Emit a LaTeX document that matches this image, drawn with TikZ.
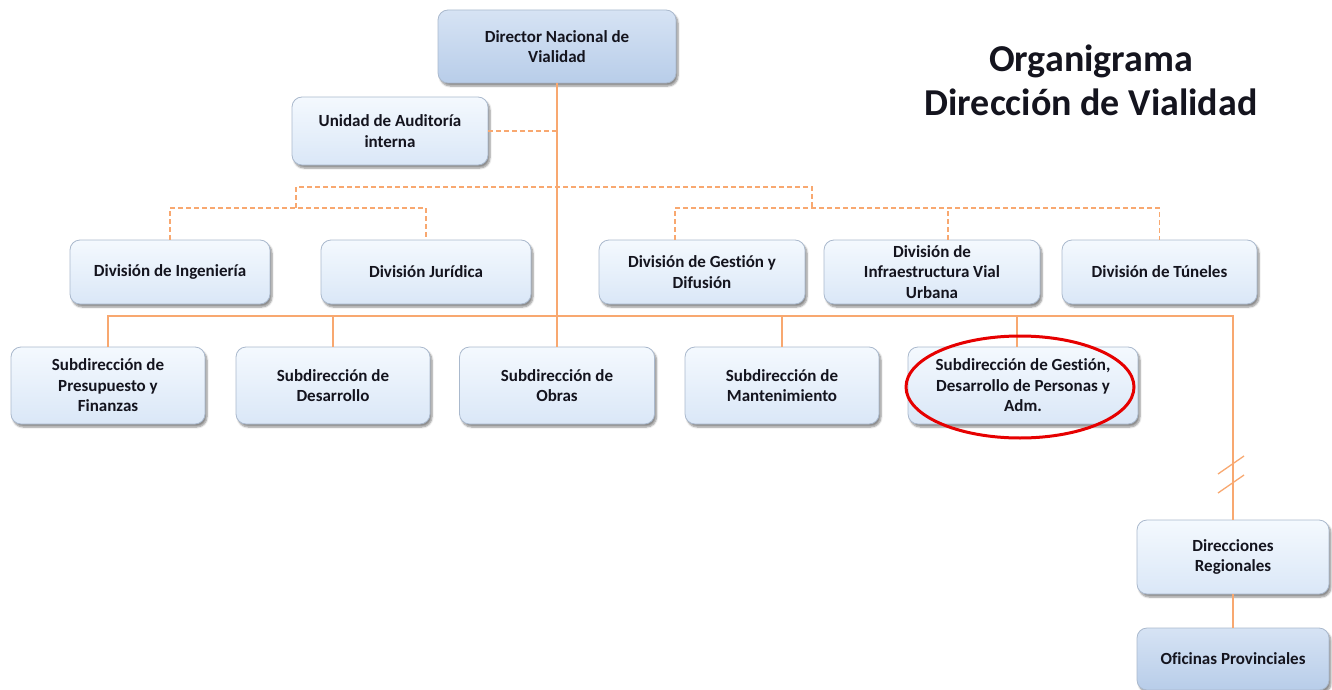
\documentclass[tikz,border=0pt]{standalone}
\usepackage{fontspec}
\setmainfont{Carlito}[Ligatures=NoCommon]
\usepackage{tikz}
\usetikzlibrary{positioning,calc,shadows.blur}
\definecolor{linkcolor}{RGB}{248,168,112}
\definecolor{boxedge}{RGB}{170,185,205}
\definecolor{paletop}{RGB}{244,249,254}
\definecolor{palebot}{RGB}{218,231,247}
\definecolor{deeptop}{RGB}{214,227,244}
\definecolor{deepbot}{RGB}{184,205,233}
\definecolor{markred}{RGB}{230,0,0}
\definecolor{inktext}{RGB}{20,20,30}
\tikzset{
  unitbox/.style={draw=boxedge, line width=0.8pt, rounded corners=10pt,
    top color=paletop, bottom color=palebot, align=center, text=inktext,
    font=\fontsize{17}{20.5}\selectfont\bfseries, inner sep=2pt,
    blur shadow={shadow xshift=2pt, shadow yshift=-3pt, shadow blur steps=6, shadow opacity=45}},
  headbox/.style={unitbox, top color=deeptop, bottom color=deepbot},
  solidln/.style={draw=linkcolor, line width=1.3pt},
  dashln/.style={draw=linkcolor, line width=1.3pt, dash pattern=on 5pt off 3pt},
}

\begin{document}
\begin{tikzpicture}[x=1pt, y=-1pt]
    \useasboundingbox (0,0) rectangle (1332,690);

    % top of the chart
    \node[headbox, minimum width=238pt, minimum height=73pt] (dir) at (557,46.5) {Director Nacional de\\Vialidad};
    \node[unitbox, minimum width=196pt, minimum height=68pt] (aud) at (390,131) {Unidad de Auditoría\\interna};
    \node[font=\fontsize{38}{44}\selectfont\bfseries, align=center, text=inktext] (title) at (1091,80) {Organigrama\\Dirección de Vialidad};

    % divisions
    \node[unitbox, minimum width=200pt, minimum height=64pt] (ing) at (170,272) {División de Ingeniería};
    \node[unitbox, minimum width=210pt, minimum height=64pt] (jur) at (426,272) {División Jurídica};
    \node[unitbox, minimum width=206pt, minimum height=64pt] (gesd) at (702,272) {División de Gestión y\\Difusión};
    \node[unitbox, minimum width=216pt, minimum height=64pt] (infra) at (932,272) {División de\\Infraestructura Vial\\Urbana};
    \node[unitbox, minimum width=195pt, minimum height=64pt] (tun) at (1159.5,272) {División de Túneles};

    % subdirecciones
    \node[unitbox, minimum width=194pt, minimum height=77pt] (pres) at (108,385.5) {Subdirección de\\Presupuesto y\\Finanzas};
    \node[unitbox, minimum width=194pt, minimum height=77pt] (desa) at (333,385.5) {Subdirección de\\Desarrollo};
    \node[unitbox, minimum width=195pt, minimum height=77pt] (obras) at (557,385.5) {Subdirección de\\Obras};
    \node[unitbox, minimum width=194pt, minimum height=77pt] (mant) at (782,385.5) {Subdirección de\\Mantenimiento};
    \node[unitbox, minimum width=230pt, minimum height=77pt] (gesp) at (1023,385.5) {Subdirección de Gestión,\\Desarrollo de Personas y\\Adm.};

    % regional level
    \node[unitbox, minimum width=192pt, minimum height=74pt] (reg) at (1233,557) {Direcciones\\Regionales};
    \node[headbox, minimum width=192pt, minimum height=62pt] (ofi) at (1233,659) {Oficinas Provinciales};

    % junction points
    \coordinate (dtop) at (557,187);
    \coordinate (dl) at (296,208);
    \coordinate (dr) at (812,208);
    \coordinate (bus) at (557,316);
    \coordinate (brk) at (1232,474);

    % staff links (dashed)
    \draw[dashln] (aud.east) -- (aud.east -| dir.south);
    \draw[dashln] (dl) -- (dl |- dtop) -- (dr |- dtop) -- (dr);
    \draw[dashln] (ing.north) |- (dl) -| (jur.north);
    \draw[dashln] ([xshift=-27pt]gesd.north) |- (dr) -- (tun.north |- dr) -- (tun.north);
    \draw[dashln] ([xshift=16pt]infra.north) -- ([xshift=16pt]infra.north |- dr);

    % line links
    \draw[solidln] (dir.south) -- (obras.north);
    \draw[solidln] (pres.north) |- (bus) -| (reg.north);
    \foreach \n in {desa,mant}
      \draw[solidln] (\n.north) -- (\n.north |- bus);
    \draw[solidln] ([xshift=-6pt]gesp.north) -- ([xshift=-6pt]gesp.north |- bus);
    \draw[solidln] ([shift={(-14,0)}]brk) -- ([shift={(12,-18)}]brk);
    \draw[solidln] ([shift={(-14,19)}]brk) -- ([shift={(12,1)}]brk);
    \draw[solidln] (reg.south) -- (ofi.north);

    % highlight
    \draw[markred, line width=3pt] (1020,387) ellipse [x radius=114pt, y radius=51pt];
\end{tikzpicture}
\end{document}
